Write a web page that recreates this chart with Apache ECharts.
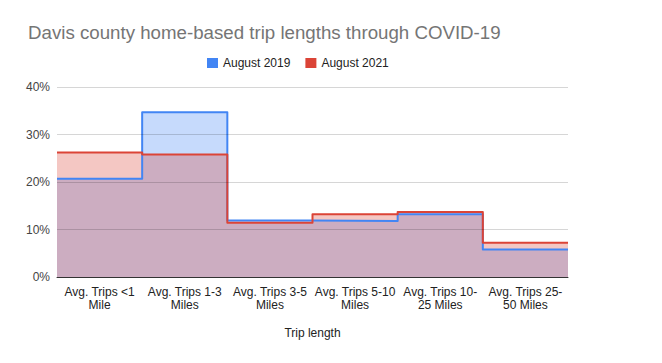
<!DOCTYPE html>
<html>
<head>
<meta charset="utf-8">
<script src="https://cdn.jsdelivr.net/npm/echarts@6/dist/echarts.min.js"></script>
<style>
html,body{margin:0;padding:0;background:#fff;}
#chart{width:662px;height:363px;}
</style>
</head>
<body>
<div id="chart"></div>
<script>
var categories = [
  "Avg. Trips <1\nMile",
  "Avg. Trips 1-3\nMiles",
  "Avg. Trips 3-5\nMiles",
  "Avg. Trips 5-10\nMiles",
  "Avg. Trips 10-\n25 Miles",
  "Avg. Trips 25-\n50 Miles"
];
var aug2019 = [0.207, 0.347, 0.119, 0.118, 0.132, 0.058];
var aug2021 = [0.262, 0.258, 0.114, 0.132, 0.137, 0.072];
var yTicks = [0, 0.1, 0.2, 0.3, 0.4];

// each category value spans its whole band on a hidden 0..n value axis
function stepData(vals) {
  var out = [];
  vals.forEach(function (v, i) { out.push([i, v]); out.push([i + 1, v]); });
  return out;
}

var FONT = '"Liberation Sans", Arial, sans-serif';
var chart = echarts.init(document.getElementById('chart'), null, {renderer: 'svg'});
chart.setOption({
  animation: false,
  backgroundColor: '#fff',
  title: {
    text: 'Davis county home-based trip lengths through COVID-19',
    left: 28, top: 23, padding: 0,
    textStyle: {fontFamily: FONT, fontSize: 18.7, fontWeight: 'normal', color: '#757575'}
  },
  legend: {
    left: 207, top: 57, padding: 0,
    icon: 'rect', itemWidth: 11, itemHeight: 10, itemGap: 15,
    textStyle: {fontFamily: FONT, fontSize: 12, color: '#222'},
    data: ['August 2019', 'August 2021']
  },
  grid: {left: 57, right: 94, top: 87, bottom: 86, containLabel: false},
  xAxis: [
    {
      type: 'category', data: categories, boundaryGap: true,
      name: 'Trip length', nameLocation: 'middle', nameGap: 50,
      nameTextStyle: {fontFamily: FONT, fontSize: 12, color: '#222'},
      axisLine: {show: true, lineStyle: {color: '#333', width: 1}},
      axisTick: {show: false},
      axisLabel: {fontFamily: FONT, fontSize: 12, color: '#222', margin: 8, lineHeight: 13, interval: 0},
      splitLine: {show: false},
      z: 4
    },
    {type: 'value', min: 0, max: categories.length, show: false}
  ],
  yAxis: {
    type: 'value', min: yTicks[0], max: yTicks[yTicks.length - 1], interval: 0.1,
    axisLine: {show: false}, axisTick: {show: false},
    axisLabel: {fontFamily: FONT, fontSize: 12, color: '#444', margin: 7,
      formatter: function (v) { return Math.round(v * 100) + '%'; }},
    splitLine: {lineStyle: {color: 'rgba(0,0,0,0.16)', width: 1}},
    z: 3
  },
  series: [
    {
      name: 'August 2019', type: 'line', xAxisIndex: 1,
      data: stepData(aug2019), showSymbol: false, symbol: 'none',
      color: '#4285f4',
      lineStyle: {color: '#4285f4', width: 2, join: 'round'},
      areaStyle: {color: '#4285f4', opacity: 0.3},
      z: 2
    },
    {
      name: 'August 2021', type: 'line', xAxisIndex: 1,
      data: stepData(aug2021), showSymbol: false, symbol: 'none',
      color: '#db4437',
      lineStyle: {color: '#db4437', width: 2, join: 'round'},
      areaStyle: {color: '#db4437', opacity: 0.3},
      z: 2
    }
  ]
});
</script>
</body>
</html>
